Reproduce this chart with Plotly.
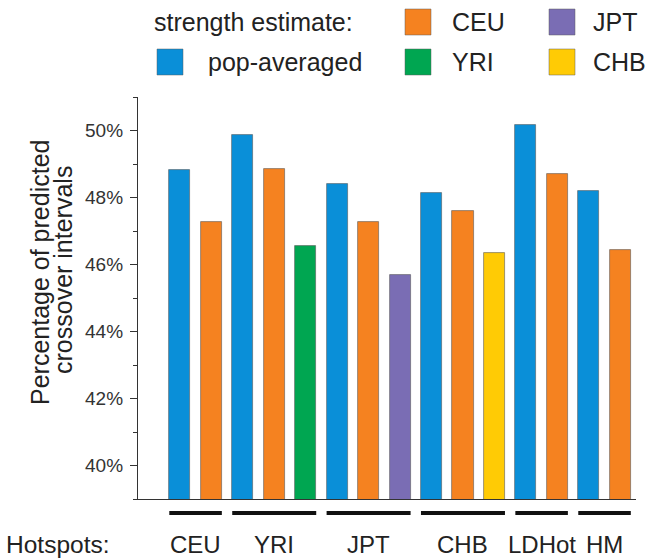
import plotly.graph_objects as go

# ---- data ----
hotspot_groups = ["CEU", "YRI", "JPT", "CHB", "LDHot", "HM"]
pop_averaged = [48.81, 49.88, 48.39, 48.12, 50.15, 48.20]
ceu_estimate = [47.28, 48.86, 47.28, 47.61, 48.71, 46.44]
yri_estimate = {"YRI": 46.56}
jpt_estimate = {"JPT": 45.70}
chb_estimate = {"CHB": 46.34}
y_tick_vals = [40, 42, 44, 46, 48, 50]
y_tick_text = ["40%", "42%", "44%", "46%", "48%", "50%"]

colors = {
    "pop-averaged": "#0A8FD8",
    "CEU": "#F58220",
    "YRI": "#00A651",
    "JPT": "#7A6DB4",
    "CHB": "#FFCB05",
}

# ---- layout geometry ----
W, H = 645, 560
L, R, T, B = 138, 9, 97, 61
PW, PH = W - L - R, H - T - B
FONT = "Liberation Sans, Arial, Helvetica, sans-serif"


def px(x):
    return (x - L) / PW


def py(y):
    return (H - B - y) / PH


# assign sequential bar positions
series_x = {k: [] for k in colors}
series_y = {k: [] for k in colors}
group_span = []
pos = 0
extra = {"YRI": yri_estimate, "JPT": jpt_estimate, "CHB": chb_estimate}
for gi, g in enumerate(hotspot_groups):
    start = pos
    series_x["pop-averaged"].append(pos); series_y["pop-averaged"].append(pop_averaged[gi]); pos += 1
    series_x["CEU"].append(pos); series_y["CEU"].append(ceu_estimate[gi]); pos += 1
    for name, d in extra.items():
        if g in d:
            series_x[name].append(pos); series_y[name].append(d[g]); pos += 1
    group_span.append((start, pos - 1))

BW = 0.67
fig = go.Figure()
for name in colors:
    fig.add_trace(go.Bar(
        x=series_x[name], y=series_y[name], name=name, width=BW,
        marker=dict(color=colors[name], line=dict(color="rgba(90,90,90,0.75)", width=0.8)),
        showlegend=False,
    ))

shapes = []
annotations = []
# group underline bars and labels
for g, (s, e) in zip(hotspot_groups, group_span):
    shapes.append(dict(type="line", xref="x", yref="paper",
                       x0=s - BW / 2, x1=e + BW / 2, y0=py(513), y1=py(513),
                       line=dict(color="#111111", width=4)))
    annotations.append(dict(xref="x", yref="paper", x=(s + e) / 2, y=py(544),
                            text=g, showarrow=False, xanchor="center", yanchor="middle",
                            font=dict(size=24, color="#222222", family=FONT)))
annotations.append(dict(xref="paper", yref="paper", x=px(4), y=py(544), text="Hotspots:",
                        showarrow=False, xanchor="left", yanchor="middle",
                        font=dict(size=24.5, color="#222222", family=FONT)))

# y-axis title (two lines)
annotations.append(dict(xref="paper", yref="paper", x=px(40), y=py(273),
                        text="Percentage of predicted", textangle=-90, showarrow=False,
                        xanchor="center", yanchor="middle",
                        font=dict(size=25, color="#222222", family=FONT)))
annotations.append(dict(xref="paper", yref="paper", x=px(63), y=py(270),
                        text="crossover intervals", textangle=-90, showarrow=False,
                        xanchor="center", yanchor="middle",
                        font=dict(size=25, color="#222222", family=FONT)))

# custom legend
annotations.append(dict(xref="paper", yref="paper", x=px(152), y=py(22),
                        text="strength estimate:", showarrow=False, xanchor="left", yanchor="middle",
                        font=dict(size=25, color="#222222", family=FONT)))
legend_items = [
    ("pop-averaged", 157, 62, 206),
    ("CEU", 405, 22, 450),
    ("YRI", 405, 62, 450),
    ("JPT", 549, 22, 591),
    ("CHB", 549, 62, 591),
]
for name, sx, cy, tx in legend_items:
    shapes.append(dict(type="rect", xref="paper", yref="paper",
                       x0=px(sx), x1=px(sx + 26), y0=py(cy + 13), y1=py(cy - 13),
                       fillcolor=colors[name], line=dict(color="rgba(90,90,90,0.6)", width=0.8)))
    annotations.append(dict(xref="paper", yref="paper", x=px(tx), y=py(cy),
                            text=name, showarrow=False, xanchor="left", yanchor="middle",
                            font=dict(size=25, color="#222222", family=FONT)))

fig.update_layout(
    width=W, height=H,
    margin=dict(l=L, r=R, t=T, b=B, pad=0),
    paper_bgcolor="white", plot_bgcolor="white",
    bargap=0, barmode="overlay",
    shapes=shapes, annotations=annotations,
    font=dict(family=FONT, color="#222222"),
)
fig.update_xaxes(range=[-1.33, 14.5], showticklabels=False, ticks="", showgrid=False,
                 zeroline=False, showline=True, linecolor="#333333", linewidth=1.3)
fig.update_yaxes(range=[39, 51], tickvals=y_tick_vals, ticktext=y_tick_text,
                 ticks="outside", ticklen=7, tickwidth=1.2, tickcolor="#333333",
                 minor=dict(dtick=1, tick0=39, ticks="outside", ticklen=4, tickwidth=1.2, tickcolor="#333333"),
                 showgrid=False, zeroline=False, showline=True, linecolor="#333333", linewidth=1.3,
                 tickfont=dict(size=19, color="#333333", family=FONT), ticklabelstandoff=3)

fig.write_html(
    "out.html",
    config={"displayModeBar": False},
    post_script="document.body.style.margin='0px';document.body.style.overflow='hidden';",
)
